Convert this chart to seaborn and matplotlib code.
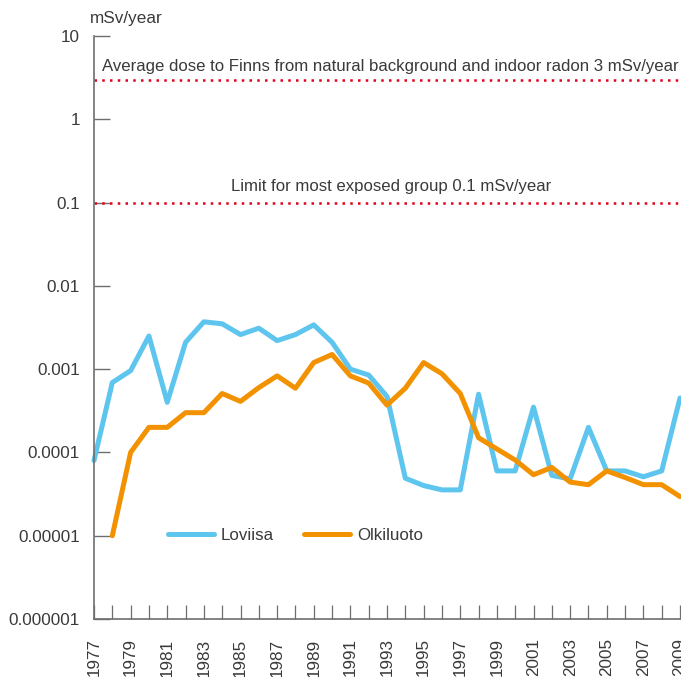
import numpy as np
import pandas as pd
import matplotlib
matplotlib.use("Agg")
import matplotlib.pyplot as plt
import seaborn as sns

years_loviisa = list(range(1977, 2010))
loviisa = [8e-5, 6.9e-4, 9.6e-4, 2.5e-3, 4.0e-4, 2.1e-3, 3.7e-3, 3.5e-3, 2.6e-3, 3.1e-3,
           2.2e-3, 2.6e-3, 3.4e-3, 2.1e-3, 1.0e-3, 8.5e-4, 4.7e-4, 4.9e-5, 4.0e-5, 3.55e-5,
           3.55e-5, 5.0e-4, 6.0e-5, 6.0e-5, 3.5e-4, 5.3e-5, 4.8e-5, 2.0e-4, 6.0e-5, 6.0e-5,
           5.1e-5, 6.0e-5, 4.5e-4]
years_olkiluoto = list(range(1978, 2010))
olkiluoto = [1e-5, 1e-4, 2.0e-4, 2.0e-4, 3.0e-4, 3.0e-4, 5.1e-4, 4.1e-4, 6.0e-4, 8.3e-4,
             5.9e-4, 1.2e-3, 1.5e-3, 8.3e-4, 6.8e-4, 3.7e-4, 5.9e-4, 1.2e-3, 8.8e-4, 5.1e-4,
             1.5e-4, 1.1e-4, 8.1e-5, 5.4e-5, 6.6e-5, 4.4e-5, 4.1e-5, 6.0e-5, 5.0e-5, 4.1e-5,
             4.1e-5, 2.95e-5]
sites = ["Loviisa", "Olkiluoto"]
ref_values = [3.0, 0.1]
ref_labels = ["Average dose to Finns from natural background and indoor radon 3 mSv/year",
              "Limit for most exposed group 0.1 mSv/year"]
y_ticks = [1e-6, 1e-5, 1e-4, 1e-3, 1e-2, 1e-1, 1, 10]
y_tick_labels = ["0.000001", "0.00001", "0.0001", "0.001", "0.01", "0.1", "1", "10"]
x_label_years = list(range(1977, 2010, 2))
y_unit = "mSv/year"

df = pd.concat([
    pd.DataFrame({"year": years_loviisa, "dose": loviisa, "site": sites[0]}),
    pd.DataFrame({"year": years_olkiluoto, "dose": olkiluoto, "site": sites[1]}),
], ignore_index=True)

sns.set_theme(style="white")
plt.rcParams["font.family"] = ["Liberation Sans", "DejaVu Sans"]

text_color = "#3a3a3a"
axis_color = "#6e6e6e"
blue = "#5DC5EE"
orange = "#F39200"
red = "#E2001A"

fig = plt.figure(figsize=(6.81, 6.77), dpi=100)
ax = fig.add_axes([94 / 681, 58 / 677, 586 / 681, 583 / 677])

sns.lineplot(data=df, x="year", y="dose", hue="site", palette=[blue, orange],
             linewidth=3.6, ax=ax, clip_on=False, legend=True)

ax.set_yscale("log")
ax.set_ylim(1e-6, 10)
ax.set_xlim(1977, 2009)

for v in ref_values:
    ax.axhline(v, color=red, linewidth=1.8, linestyle=(0, (1, 2.1)), clip_on=False, zorder=1)
ax.text(1977.45, 3.0 * 1.28, ref_labels[0], fontsize=12.1, color=text_color,
        ha="left", va="baseline")
ax.text(1993.2, 0.1 * 1.39, ref_labels[1], fontsize=12.1, color=text_color,
        ha="center", va="baseline")

ax.set_yticks(y_ticks)
ax.set_yticklabels(y_tick_labels)
ax.yaxis.set_minor_locator(matplotlib.ticker.NullLocator())
ax.set_xticks(list(range(1977, 2010)))
ax.set_xticklabels([str(y) if y in x_label_years else "" for y in range(1977, 2010)],
                   rotation=90)
ax.tick_params(axis="y", direction="in", length=11.5, width=1.0, color=axis_color,
               labelsize=12.3, labelcolor=text_color, pad=10, left=True)
ax.tick_params(axis="x", direction="in", length=10, width=0.9, color=axis_color,
               labelsize=12.3, labelcolor=text_color, pad=14, bottom=True)
for lab in ax.get_xticklabels():
    lab.set_va("top")

ax.set_xlabel("")
ax.set_ylabel("")
for s in ["top", "right"]:
    ax.spines[s].set_visible(False)
for s in ["left", "bottom"]:
    ax.spines[s].set_color(axis_color)
    ax.spines[s].set_linewidth(1.2)

ax.text(-0.007, 1.022, y_unit, transform=ax.transAxes, fontsize=12.3, color=text_color,
        ha="left", va="baseline")

leg = ax.legend(loc="center left", bbox_to_anchor=(0.10, 1 / 7), ncol=2,
                frameon=False, handlelength=2.7, columnspacing=1.8, handletextpad=0.42,
                fontsize=12.2, labelcolor=text_color)
for h in leg.get_lines():
    h.set_linewidth(3.6)

fig.savefig("out.png", dpi=100)
